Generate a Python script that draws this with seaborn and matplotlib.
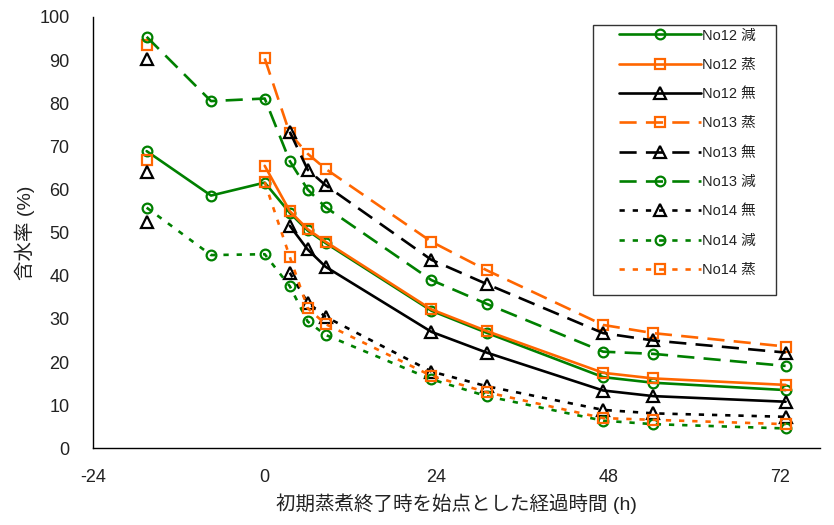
import numpy as np
import pandas as pd
import seaborn as sns
import matplotlib
matplotlib.use("Agg")
import matplotlib.pyplot as plt
from matplotlib.lines import Line2D
from matplotlib.patches import Rectangle

# Elapsed time from the end of initial steaming (h)
hours = [-16.5, -7.5, 0, 3.5, 6, 8.5, 23.3, 31, 47.3, 54.3, 72.8]
nan = np.nan

# Moisture content (%) for each lot and treatment
no12_gen = [68.9, 58.6, 61.6, 54.6, 50.5, 47.6, 31.9, 26.8, 16.5, 15.2, 13.5]
no12_jo = [66.8, nan, 65.5, 55.0, 50.8, 47.9, 32.2, 27.2, 17.5, 16.2, 14.7]
no12_mu = [64.1, nan, nan, 51.6, 46.1, 42.1, 27.0, 22.2, 13.4, 12.1, 10.8]
no13_jo = [93.5, nan, 90.4, 73.0, 68.3, 64.8, 47.9, 41.3, 28.6, 26.7, 23.6]
no13_mu = [90.2, nan, nan, 73.4, 64.6, 61.0, 43.7, 38.1, 26.7, 25.0, 22.2]
no13_gen = [95.4, 80.5, 81.1, 66.6, 60.0, 55.9, 39.0, 33.5, 22.4, 21.9, 19.1]
no14_mu = [52.5, nan, nan, 40.7, 33.8, 30.5, 17.8, 14.4, 8.9, 8.1, 7.3]
no14_gen = [55.8, 44.8, 45.0, 37.6, 29.4, 26.3, 16.0, 12.1, 6.4, 5.6, 4.6]
no14_jo = [nan, nan, 61.7, 44.4, 32.5, 28.8, 16.8, 13.0, 7.0, 6.6, 5.6]

labels = ["No12 減", "No12 蒸", "No12 無", "No13 蒸", "No13 無",
          "No13 減", "No14 無", "No14 減", "No14 蒸"]
values = [no12_gen, no12_jo, no12_mu, no13_jo, no13_mu,
          no13_gen, no14_mu, no14_gen, no14_jo]

x_ticks = [-24, 0, 24, 48, 72]
y_ticks = [0, 10, 20, 30, 40, 50, 60, 70, 80, 90, 100]

GREEN = "#008000"
ORANGE = "#FF6600"
BLACK = "#000000"
solid = "-"
dashed = (0, (6.5, 3.5))
dotted = (0, (2.0, 3.0))
styles = {
    "No12 減": (GREEN, solid, "o"),
    "No12 蒸": (ORANGE, solid, "s"),
    "No12 無": (BLACK, solid, "^"),
    "No13 蒸": (ORANGE, dashed, "s"),
    "No13 無": (BLACK, dashed, "^"),
    "No13 減": (GREEN, dashed, "o"),
    "No14 無": (BLACK, dotted, "^"),
    "No14 減": (GREEN, dotted, "o"),
    "No14 蒸": (ORANGE, dotted, "s"),
}
msize = {"o": 7.0, "s": 7.5, "^": 8.5}

sns.set_style("white")
plt.rcParams["font.family"] = ["Liberation Sans", "Noto Sans CJK JP", "DejaVu Sans"]

fig = plt.figure(figsize=(8.34, 5.25), dpi=100)
W, H = 834, 525
left, right, top, bottom = 93, 820, 17, 448.3
ax = fig.add_axes([left / W, 1 - bottom / H, (right - left) / W, (bottom - top) / H])

LW = 1.9
for lab, vals in zip(labels, values):
    color, ls, mk = styles[lab]
    df = pd.DataFrame({"h": hours, "mc": vals})
    # break the line wherever a value is missing
    seg_id = df["mc"].isna().cumsum()
    for _, seg in df[df["mc"].notna()].groupby(seg_id[df["mc"].notna()]):
        sns.lineplot(data=seg, x="h", y="mc", ax=ax, color=color, linestyle=ls,
                     linewidth=LW, marker=mk, markersize=msize[mk],
                     markerfacecolor="none", markeredgecolor=color,
                     markeredgewidth=1.6, sort=False, estimator=None,
                     errorbar=None, legend=False)

ax.set_xlim(-24, -24 + (right - left) / 7.155)
ax.set_ylim(0, 100)
ax.set_xticks(x_ticks)
ax.set_yticks(y_ticks)
ax.set_xticklabels([str(v) for v in x_ticks])
ax.set_yticklabels([str(v) for v in y_ticks])
ax.tick_params(axis="x", direction="in", length=5, width=1, color="#808080",
               pad=15, labelsize=13, labelcolor="#222222")
ax.tick_params(axis="y", direction="in", length=0, pad=17, labelsize=13,
               labelcolor="#222222")
for s in ["top", "right"]:
    ax.spines[s].set_visible(False)
for s in ["left", "bottom"]:
    ax.spines[s].set_color("#000000")
    ax.spines[s].set_linewidth(1.0)

ax.set_xlabel("初期蒸煮終了時を始点とした経過時間 (h)", fontsize=14,
              color="#222222", labelpad=5)
ax.set_ylabel("含水率 (%)", fontsize=14, color="#222222", labelpad=3)

# legend panel
def ax_x(px):
    return (px - left) / (right - left)

def ax_y(py):
    return (bottom - py) / (bottom - top)

frame = Rectangle((ax_x(593), ax_y(295)), ax_x(776) - ax_x(593),
                  ax_y(25) - ax_y(295), transform=ax.transAxes,
                  facecolor="white", edgecolor="#333333", linewidth=1.0,
                  clip_on=False, zorder=4)
ax.add_patch(frame)

handles = []
for lab in labels:
    color, ls, mk = styles[lab]
    handles.append(Line2D([], [], color=color, linestyle=ls, linewidth=LW,
                          marker=mk, markersize=msize[mk],
                          markerfacecolor="none", markeredgecolor=color,
                          markeredgewidth=1.6))
leg = ax.legend(handles, labels, loc="upper left",
                bbox_to_anchor=(ax_x(619), ax_y(28.5)), frameon=False,
                borderpad=0, borderaxespad=0, fontsize=10.5,
                handlelength=5.6, handletextpad=0.1, labelspacing=1.05,
                labelcolor="#222222")
leg.set_zorder(5)

fig.savefig("out.png", dpi=100)
